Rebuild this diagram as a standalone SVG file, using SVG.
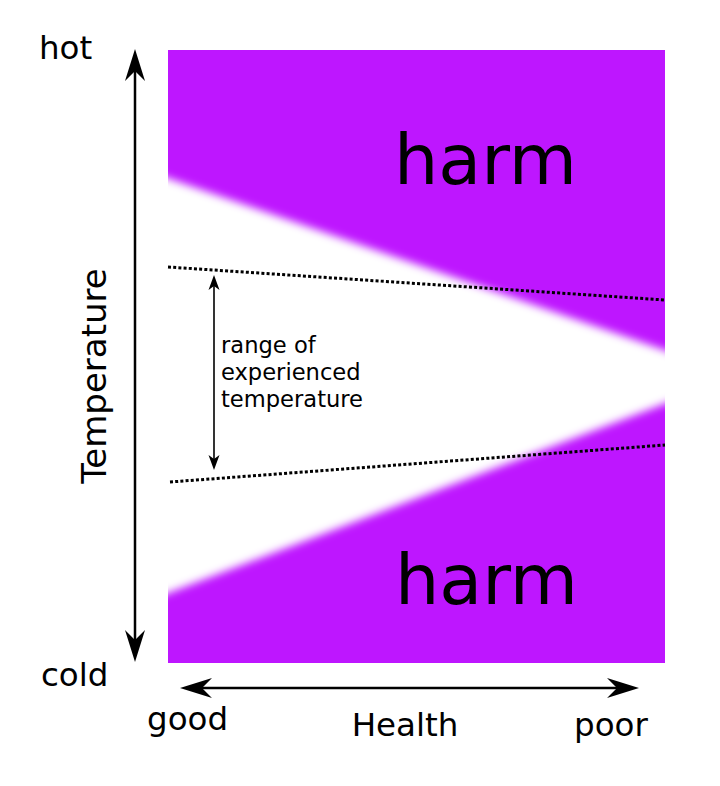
<svg xmlns="http://www.w3.org/2000/svg" width="720" height="786" viewBox="0 0 720 786">
  <style>
    .lbl { font-family: "DejaVu Sans", Verdana, sans-serif; fill: #000; }
    .axis { font-size: 32.5px; }
    .temp { font-size: 34px; }
    .harm { font-size: 70px; }
    .small { font-size: 22.6px; }
    .main { stroke: #000; stroke-width: 2.5; fill: none; }
    .thin { stroke: #000; stroke-width: 1.6; fill: none; }
    .dot { stroke: #000; stroke-width: 3; stroke-dasharray: 3 2.2; fill: none; }
  </style>
  <defs>
    <clipPath id="plotClip">
      <rect x="168" y="50" width="497" height="613"/>
    </clipPath>
    <filter id="soft" x="-10%" y="-10%" width="120%" height="120%">
      <feGaussianBlur stdDeviation="4"/>
    </filter>
    <marker id="bigHead" markerUnits="userSpaceOnUse" orient="auto-start-reverse" overflow="visible" refX="0" refY="0" markerWidth="40" markerHeight="24">
      <path d="M22,0 L-10,-10 L0,0 L-10,10 Z" fill="#000"/>
    </marker>
    <marker id="smallHead" markerUnits="userSpaceOnUse" orient="auto-start-reverse" overflow="visible" refX="0" refY="0" markerWidth="20" markerHeight="12">
      <path d="M11,0 L-4,-5.5 L0,0 L-4,5.5 Z" fill="#000"/>
    </marker>
  </defs>

  <g id="plot">
    <rect x="168" y="50" width="497" height="613" fill="#be16ff"/>
    <g clip-path="url(#plotClip)">
      <polygon points="150,172 690,359 690,394 150,600" fill="#fff" filter="url(#soft)"/>
    </g>
  </g>

  <g id="harm-top">
    <text class="lbl harm" x="394" y="184">harm</text>
  </g>
  <g id="harm-bottom">
    <text class="lbl harm" x="395" y="604">harm</text>
  </g>

  <g id="connectors">
    <line class="dot" x1="168" y1="267" x2="665" y2="300"/>
    <line class="dot" x1="170" y1="482" x2="665" y2="445"/>
    <line class="main" x1="135" y1="71" x2="135" y2="640" marker-start="url(#bigHead)" marker-end="url(#bigHead)"/>
    <line class="main" x1="202" y1="688" x2="617" y2="688" marker-start="url(#bigHead)" marker-end="url(#bigHead)"/>
    <line class="thin" x1="214" y1="286" x2="214" y2="459" marker-start="url(#smallHead)" marker-end="url(#smallHead)"/>
  </g>

  <g id="range-label">
    <text class="lbl small" x="221" y="353">range of</text>
    <text class="lbl small" x="221" y="380">experienced</text>
    <text class="lbl small" x="221" y="407">temperature</text>
  </g>

  <g id="axis-labels">
    <text class="lbl axis" x="39" y="59">hot</text>
    <text class="lbl axis" x="41" y="686">cold</text>
    <text class="lbl axis" x="147" y="730">good</text>
    <text class="lbl axis" x="405" y="736" text-anchor="middle">Health</text>
    <text class="lbl axis" x="574" y="736">poor</text>
    <text class="lbl temp" transform="translate(106,376) rotate(-90)" text-anchor="middle">Temperature</text>
  </g>
</svg>
